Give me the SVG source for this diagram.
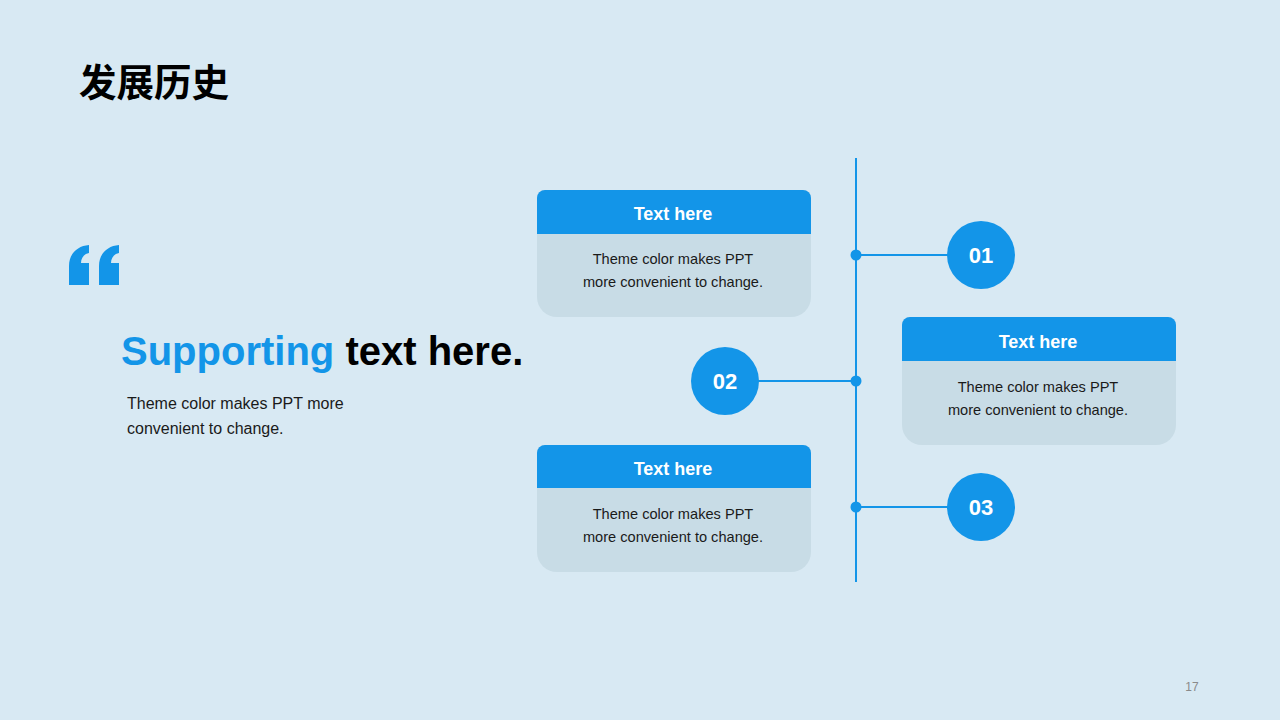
<svg xmlns="http://www.w3.org/2000/svg" width="1280" height="720" viewBox="0 0 1280 720">
<style>
.blue{fill:#1395E8}
.card{fill:#C8DCE6}
.hd{font-family:"Liberation Sans",Arial,sans-serif;font-weight:bold;font-size:18px;fill:#fff;text-anchor:middle}
.bd{font-family:"Liberation Sans",Arial,sans-serif;font-size:14.6px;fill:#1a1a1a;text-anchor:middle}
.num{font-family:"Liberation Sans",Arial,sans-serif;font-weight:bold;font-size:22px;fill:#fff;text-anchor:middle}
.ln{stroke:#1395E8;stroke-width:2;fill:none}
</style>
<rect width="1280" height="720" fill="#D8E9F3"/>
<text x="79" y="96" font-family="'Noto Sans CJK SC',sans-serif" font-weight="bold" font-size="37.5" fill="#000">发展历史</text>
<g id="quote" class="blue">
<path d="M69,285 L69,266 C69,254 77,246 89,245 L89,253 C84,254 81,258 81,263 L89,263 L89,285 Z"/>
<path d="M99,285 L99,266 C99,254 107,246 119,245 L119,253 C114,254 111,258 111,263 L119,263 L119,285 Z"/>
</g>
<text x="121" y="365" font-family="'Liberation Sans',Arial,sans-serif" font-weight="bold" font-size="40"><tspan fill="#1395E8">Supporting</tspan><tspan fill="#000"> text here.</tspan></text>
<text font-family="'Liberation Sans',Arial,sans-serif" font-size="16" fill="#1a1a1a"><tspan x="127" y="409">Theme color makes PPT more</tspan><tspan x="127" y="434">convenient to change.</tspan></text>
<g id="connectors">
<line class="ln" x1="856" y1="158" x2="856" y2="582"/>
<line class="ln" x1="856" y1="255" x2="948" y2="255"/>
<line class="ln" x1="725" y1="381" x2="856" y2="381"/>
<line class="ln" x1="856" y1="507" x2="948" y2="507"/>
<circle class="blue" cx="856" cy="255" r="5.5"/>
<circle class="blue" cx="856" cy="381" r="5.5"/>
<circle class="blue" cx="856" cy="507" r="5.5"/>
</g>
<g id="card1">
<path class="card" d="M545,190 H803 A8,8 0 0 1 811,198 V297 A20,20 0 0 1 791,317 H557 A20,20 0 0 1 537,297 V198 A8,8 0 0 1 545,190 Z"/>
<path class="blue" d="M545,190 H803 A8,8 0 0 1 811,198 V234 H537 V198 A8,8 0 0 1 545,190 Z"/>
<text class="hd" x="673" y="220">Text here</text>
<text class="bd" x="673" y="264">Theme color makes PPT</text>
<text class="bd" x="673" y="287">more convenient to change.</text>
</g>
<g id="card2">
<path class="card" d="M910,317 H1168 A8,8 0 0 1 1176,325 V425 A20,20 0 0 1 1156,445 H922 A20,20 0 0 1 902,425 V325 A8,8 0 0 1 910,317 Z"/>
<path class="blue" d="M910,317 H1168 A8,8 0 0 1 1176,325 V361 H902 V325 A8,8 0 0 1 910,317 Z"/>
<text class="hd" x="1038" y="348">Text here</text>
<text class="bd" x="1038" y="392">Theme color makes PPT</text>
<text class="bd" x="1038" y="415">more convenient to change.</text>
</g>
<g id="card3">
<path class="card" d="M545,445 H803 A8,8 0 0 1 811,453 V552 A20,20 0 0 1 791,572 H557 A20,20 0 0 1 537,552 V453 A8,8 0 0 1 545,445 Z"/>
<path class="blue" d="M545,445 H803 A8,8 0 0 1 811,453 V488 H537 V453 A8,8 0 0 1 545,445 Z"/>
<text class="hd" x="673" y="475">Text here</text>
<text class="bd" x="673" y="519">Theme color makes PPT</text>
<text class="bd" x="673" y="542">more convenient to change.</text>
</g>
<g id="n01"><circle class="blue" cx="981" cy="255" r="34"/><text class="num" x="981" y="263">01</text></g>
<g id="n02"><circle class="blue" cx="725" cy="381" r="34"/><text class="num" x="725" y="389">02</text></g>
<g id="n03"><circle class="blue" cx="981" cy="507" r="34"/><text class="num" x="981" y="515">03</text></g>
<text x="1192" y="691" font-family="'Liberation Sans',Arial,sans-serif" font-size="12" fill="#8a8a8a" text-anchor="middle">17</text>
</svg>
